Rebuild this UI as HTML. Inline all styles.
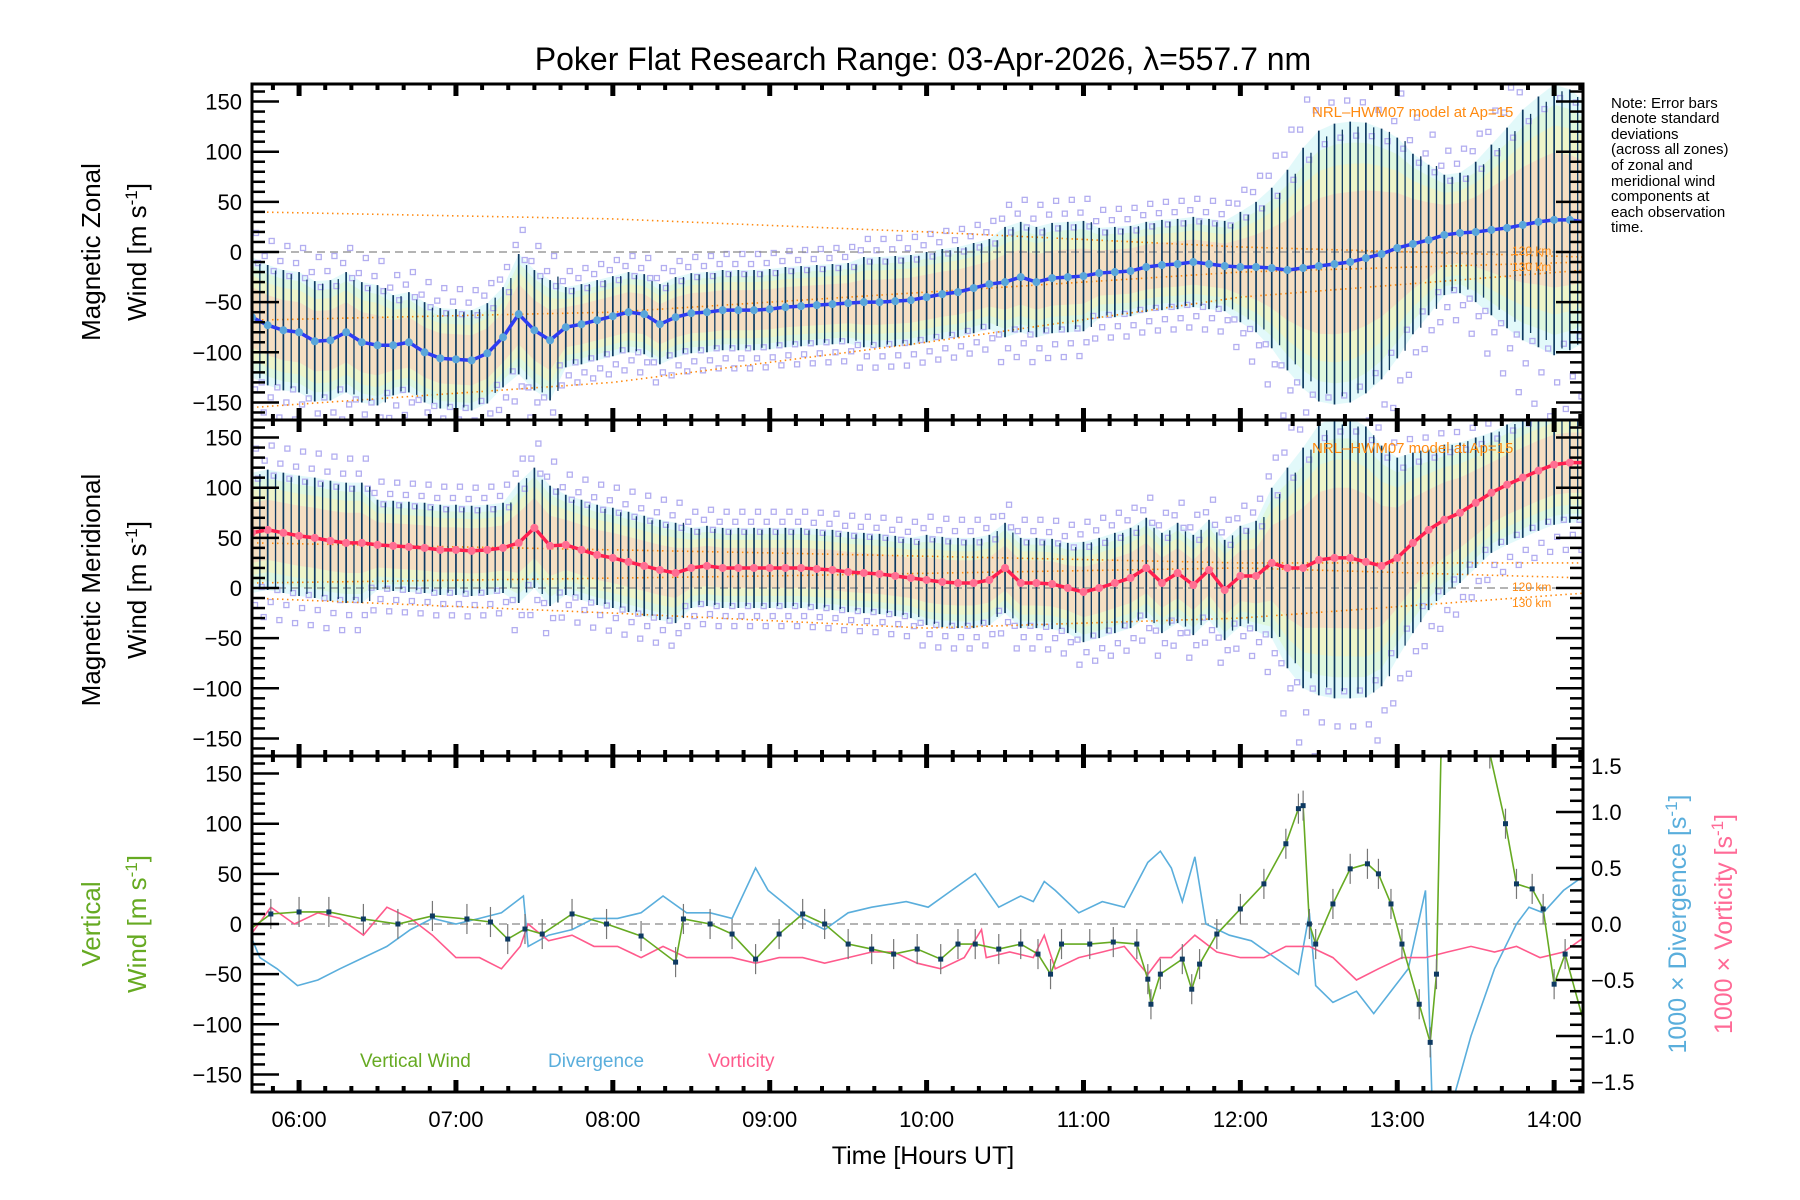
<!DOCTYPE html>
<html><head><meta charset="utf-8"><title>Poker Flat winds</title>
<style>
html,body{margin:0;padding:0;background:#fff;}
svg{display:block;font-family:"Liberation Sans",sans-serif;}
</style></head>
<body>
<svg id="chart" width="1800" height="1200" viewBox="0 0 1800 1200" xmlns="http://www.w3.org/2000/svg">
<defs>
<clipPath id="clip1"><rect x="252" y="84" width="1331" height="336"/></clipPath>
<clipPath id="clip2"><rect x="252" y="420" width="1331" height="336"/></clipPath>
<clipPath id="clip3"><rect x="252" y="756" width="1331" height="336"/></clipPath>
</defs>
<text x="923" y="70" font-size="32" text-anchor="middle">Poker Flat Research Range: 03-Apr-2026, λ=557.7 nm</text>
<g id="layer"></g>
<text x="923" y="1164" font-size="25" text-anchor="middle">Time [Hours UT]</text>
<g font-size="26" text-anchor="middle">
<text transform="translate(100,252) rotate(-90)">Magnetic  Zonal</text>
<text transform="translate(146,252) rotate(-90)">Wind  [m  s<tspan font-size="17" dy="-9">-1</tspan><tspan dy="9">]</tspan></text>
</g>
<g font-size="26" text-anchor="middle">
<text transform="translate(100,590) rotate(-90)">Magnetic  Meridional</text>
<text transform="translate(146,590) rotate(-90)">Wind  [m  s<tspan font-size="17" dy="-9">-1</tspan><tspan dy="9">]</tspan></text>
</g>
<g font-size="26" text-anchor="middle" fill="#66aa22">
<text transform="translate(100,924) rotate(-90)">Vertical</text>
<text transform="translate(146,924) rotate(-90)">Wind  [m  s<tspan font-size="17" dy="-9">-1</tspan><tspan dy="9">]</tspan></text>
</g>
<text transform="translate(1686,924) rotate(-90)" font-size="25" text-anchor="middle" fill="#5aaedc">1000 × Divergence [s<tspan font-size="17" dy="-9">-1</tspan><tspan dy="9">]</tspan></text>
<text transform="translate(1732,924) rotate(-90)" font-size="25" text-anchor="middle" fill="#ff6a96">1000 × Vorticity [s<tspan font-size="17" dy="-9">-1</tspan><tspan dy="9">]</tspan></text>
<g font-size="15" fill="#000">
<text x="1611" y="108">Note: Error bars</text>
<text x="1611" y="123">denote standard</text>
<text x="1611" y="139">deviations</text>
<text x="1611" y="154">(across all zones)</text>
<text x="1611" y="170">of zonal and</text>
<text x="1611" y="186">meridional wind</text>
<text x="1611" y="201">components at</text>
<text x="1611" y="217">each observation</text>
<text x="1611" y="232">time.</text>
</g>
<g font-size="19">
<text x="360" y="1067" fill="#66aa22">Vertical Wind</text>
<text x="548" y="1067" fill="#5aaedc">Divergence</text>
<text x="708" y="1067" fill="#ff5a8c">Vorticity</text>
</g>
</svg>
<script>
// ---- data ----
const gridStart = 5.7, gridStep = 0.1;
const zonalMean = [-65,-73,-78,-80,-89,-88,-80,-90,-93,-93,-90,-100,-106,-107,-108,-101,-85,-62,-78,-88,-75,-72,-68,-64,-60,-62,-72,-65,-61,-60,-58,-58,-58,-57,-55,-54,-53,-52,-51,-50,-50,-49,-48,-45,-42,-40,-36,-32,-30,-25,-30,-26,-25,-24,-21,-20,-19,-15,-13,-12,-10,-12,-14,-15,-15,-16,-18,-16,-14,-12,-10,-6,-2,4,8,12,17,19,20,22,24,27,30,32,32,30];
const zonalStd = [60,60,60,60,60,60,60,60,60,50,50,50,50,50,50,50,50,60,60,60,40,40,40,40,40,40,40,40,40,40,40,40,40,40,40,40,40,40,40,45,45,45,45,45,45,45,45,45,55,55,55,55,55,55,45,45,45,45,45,45,45,45,45,55,65,80,100,120,135,140,140,135,125,110,90,75,60,60,70,85,100,115,125,135,130,120];
const meridMean = [55,58,55,52,50,47,45,45,43,42,41,40,38,38,37,38,40,45,60,42,43,38,33,30,26,22,18,15,20,22,20,20,20,20,20,20,19,18,16,15,14,12,10,8,6,5,5,8,20,5,5,4,0,-4,0,5,10,20,5,15,3,18,-2,12,12,25,20,20,28,30,30,26,22,30,45,58,68,75,85,95,103,110,117,123,125,125,122];
const meridStd = [60,60,60,60,60,60,60,60,45,45,45,45,45,45,45,45,45,60,60,60,50,50,50,50,50,50,50,50,40,40,40,40,40,40,40,40,40,40,40,40,40,40,40,45,45,45,45,45,45,45,45,45,45,50,50,50,50,50,50,50,50,50,50,50,55,75,100,120,135,140,140,135,120,100,90,80,75,70,65,60,60,60,60,60,60,60];
const modelZ1 = [[5.7,40],[8,33],[10,20],[12,5],[14.2,-5]];
const modelZ2 = [[5.7,-68],[8,-60],[10,-40],[12,-20],[14.2,-10]];
const modelZ3 = [[5.7,-155],[8,-130],[10,-90],[12,-45],[14.2,-18]];
const modelM1 = [[5.7,-10],[8,-25],[10,-40],[12,-30],[14.2,-5]];
const modelM2 = [[5.7,5],[9,12],[12,20],[14.2,10]];
const modelM3 = [[5.7,45],[9,35],[12,25],[14.2,25]];
const vwTimes = [5.69,5.82,6.0,6.19,6.41,6.63,6.85,7.07,7.22,7.33,7.44,7.55,7.74,7.96,8.18,8.40,8.45,8.62,8.76,8.91,9.06,9.21,9.35,9.5,9.65,9.79,9.94,10.09,10.2,10.31,10.46,10.6,10.71,10.79,10.86,11.04,11.19,11.34,11.41,11.43,11.49,11.63,11.69,11.74,11.85,12.0,12.15,12.29,12.37,12.40,12.44,12.48,12.59,12.70,12.81,12.88,12.96,13.03,13.14,13.21,13.25,13.28,13.59,13.69,13.76,13.86,13.93,14.0,14.07,14.21];
const vwValues = [-5,10,12,12,5,0,8,5,2,-15,-5,-10,10,0,-12,-38,5,0,-10,-35,-10,10,0,-20,-25,-30,-25,-35,-20,-20,-25,-20,-30,-50,-20,-20,-18,-20,-55,-80,-50,-35,-65,-40,-10,15,40,80,115,118,0,-20,20,55,60,50,20,-20,-80,-118,-50,180,170,100,40,35,15,-60,-30,-110];
const divTimes = [5.69,5.75,5.86,5.99,6.12,6.26,6.41,6.56,6.71,6.85,7.0,7.15,7.29,7.43,7.46,7.59,7.74,7.88,8.03,8.18,8.32,8.47,8.62,8.76,8.91,8.99,9.21,9.35,9.5,9.65,9.87,10.01,10.16,10.31,10.46,10.6,10.68,10.75,10.82,10.97,11.12,11.26,11.41,11.49,11.56,11.63,11.71,11.78,11.93,12.07,12.22,12.37,12.44,12.48,12.59,12.74,12.85,12.96,13.07,13.18,13.22,13.35,13.47,13.62,13.76,13.84,13.93,14.06,14.21];
const divValues = [-0.1,-0.3,-0.4,-0.55,-0.5,-0.4,-0.3,-0.2,-0.05,0.05,0,0.05,0.1,0.25,-0.2,-0.1,-0.05,0.05,0.05,0.1,0.25,0.1,0.1,0.05,0.5,0.3,0.05,-0.05,0.1,0.15,0.2,0.15,0.3,0.45,0.15,0.25,0.2,0.38,0.3,0.1,0.2,0.15,0.55,0.65,0.5,0.2,0.6,0.0,-0.1,-0.15,-0.3,-0.45,0.1,-0.55,-0.7,-0.6,-0.8,-0.6,-0.4,0.3,-1.5,-1.6,-1.0,-0.4,0.0,0.15,0.1,0.3,0.45];
const vortTimes = [5.69,5.82,5.97,6.12,6.26,6.41,6.56,6.71,6.85,7.0,7.15,7.29,7.41,7.46,7.59,7.74,7.88,8.03,8.18,8.32,8.47,8.62,8.76,8.91,9.06,9.21,9.35,9.5,9.65,9.79,9.94,10.09,10.24,10.35,10.38,10.53,10.68,10.75,10.82,10.97,11.12,11.26,11.41,11.49,11.56,11.71,11.85,12.0,12.15,12.29,12.44,12.59,12.74,12.88,13.03,13.18,13.32,13.47,13.62,13.76,13.91,14.06,14.21];
const vortValues = [-0.1,0.15,0.0,0.1,0.05,-0.1,0.15,0.05,-0.1,-0.3,-0.3,-0.4,-0.2,0.0,-0.15,-0.1,-0.2,-0.2,-0.3,-0.2,-0.3,-0.3,-0.3,-0.35,-0.3,-0.3,-0.35,-0.3,-0.25,-0.25,-0.35,-0.4,-0.3,-0.05,-0.3,-0.25,-0.3,-0.1,-0.4,-0.3,-0.25,-0.2,-0.45,-0.3,-0.3,-0.1,-0.25,-0.3,-0.3,-0.2,-0.2,-0.3,-0.5,-0.4,-0.3,-0.3,-0.25,-0.2,-0.25,-0.2,-0.3,-0.25,-0.1];
const windTicks = [-150,-100,-50,0,50,100,150];
const windTickLabels = ["\u2212150","\u2212100","\u221250","0","50","100","150"];
const rightTicks = [-1.5,-1.0,-0.5,0.0,0.5,1.0,1.5];
const rightTickLabels = ["\u22121.5","\u22121.0","\u22120.5","0.0","0.5","1.0","1.5"];
const hourTicks = [6,7,8,9,10,11,12,13,14];
const hourTickLabels = ["06:00","07:00","08:00","09:00","10:00","11:00","12:00","13:00","14:00"];

// ---- layout ----
const NS = "http://www.w3.org/2000/svg";
const L = 252, R = 1583, H = 336;
const tops = [84, 420, 756];
const T0 = 5.70, T1 = 14.184;
const YMIN = -167.5, YMAX = 167.5;
function xs(t){ return L + (t - T0) / (T1 - T0) * (R - L); }
function ys(p, v){ return tops[p] + (YMAX - v) / (YMAX - YMIN) * H; }
function yr(v){ return tops[2] + (1.5 - v) / 3.0 * H; }
const layer = document.getElementById("layer");
function mk(tag, attrs, parent){
  const e = document.createElementNS(NS, tag);
  for (const k in attrs) e.setAttribute(k, attrs[k]);
  (parent || layer).appendChild(e);
  return e;
}
const gridT = zonalMean.map((_, i) => gridStart + i * gridStep);

function drawWindPanel(p, mean, std, models, lineColor, dotColor, name){
  const g = mk("g", {"clip-path": "url(#clip" + (p + 1) + ")"});
  
  
  const bands = [[1.0, "#c6f3f5"], [0.85, "#dcf7c4"], [0.7, "#fdf1b6"], [0.5, "#fcc9bb"]];
  bands.forEach(([k, col]) => {
    let up = gridT.map((t, i) => xs(t) + "," + ys(p, mean[i] + k * std[i]));
    let dn = gridT.map((t, i) => xs(t) + "," + ys(p, mean[i] - k * std[i])).reverse();
    const b = mk("polygon", {points: up.concat(dn).join(" "), fill: col, opacity: "0.5"}, g);
    
    
  });
  gridT.forEach((t, i) => {
    [[1.15, -3], [-1.2, 3], [1.4, 4], [-1.45, -4], [0.9, 6], [-0.95, -6]].forEach(([k, dx]) => {
      const s = mk("rect", {x: xs(t) + dx - 2.5, y: ys(p, mean[i] + k * std[i]) - 2.5, width: 5, height: 5, fill: "none", stroke: "#b3aef0", "stroke-width": 1.3}, g);
      
      
    });
  });
  const z = mk("line", {x1: L, x2: R, y1: ys(p, 0), y2: ys(p, 0), stroke: "#888", "stroke-width": 1.3, "stroke-dasharray": "8 5"}, g);
  
  
  models.forEach(m => {
    const ml = mk("polyline", {points: m.map(d => xs(d[0]) + "," + ys(p, d[1])).join(" "), fill: "none", stroke: "#ff8a10", "stroke-width": 1.6, "stroke-dasharray": "1.5 3.5"}, g);
    
    
  });
  gridT.forEach((t, i) => {
    const eb = mk("line", {x1: xs(t), x2: xs(t), y1: ys(p, mean[i] + std[i]), y2: ys(p, mean[i] - std[i]), stroke: "#0e3a62", "stroke-width": 1.7}, g);
    
    
    const j = Math.min(i + 1, mean.length - 1);
    const eb2 = mk("line", {x1: xs(t + 0.05), x2: xs(t + 0.05), y1: ys(p, (mean[i] + mean[j]) / 2 + std[i] * 0.95), y2: ys(p, (mean[i] + mean[j]) / 2 - std[i] * 0.95), stroke: "#0e3a62", "stroke-width": 1.3}, g);
    
    
  });
  const ln = mk("polyline", {points: gridT.map((t, i) => xs(t) + "," + ys(p, mean[i])).join(" "), fill: "none", stroke: lineColor, "stroke-width": 3.5}, g);
  
  
  gridT.forEach((t, i) => {
    const d = mk("circle", {cx: xs(t), cy: ys(p, mean[i]), r: 4, fill: dotColor}, g);
    
    
  });
  const lab = mk("text", {x: 1312, y: tops[p] + 33, "font-size": 15, fill: "#ff8a10"}, g);
  
  
  lab.textContent = "NRL\u2013HWM07 model at Ap=15";
  const last = models[0][models[0].length-1][1];
  const k1 = mk("text", {x: 1512, y: ys(p, last) - 2, "font-size": 12, fill: "#ff8a10"}, g);
  
  
  k1.textContent = "120 km";
  const k2 = mk("text", {x: 1512, y: ys(p, last) + 14, "font-size": 12, fill: "#ff8a10"}, g);
  
  
  k2.textContent = "130 km";
}
drawWindPanel(0, zonalMean, zonalStd, [modelZ1, modelZ2, modelZ3], "#2d3cf2", "#5aa6da", "zonal");
drawWindPanel(1, meridMean, meridStd, [modelM1, modelM2, modelM3], "#ff2050", "#ff6f92", "meridional");

const g3 = mk("g", {"clip-path": "url(#clip3)"});


const z3 = mk("line", {x1: L, x2: R, y1: ys(2, 0), y2: ys(2, 0), stroke: "#888", "stroke-width": 1.3, "stroke-dasharray": "8 5"}, g3);


const divLine = mk("polyline", {points: divTimes.map((t, i) => xs(t) + "," + yr(divValues[i])).join(" "), fill: "none", stroke: "#5aaedc", "stroke-width": 1.6}, g3);


const vortLine = mk("polyline", {points: vortTimes.map((t, i) => xs(t) + "," + yr(vortValues[i])).join(" "), fill: "none", stroke: "#ff5a8c", "stroke-width": 1.6}, g3);


const vwLine = mk("polyline", {points: vwTimes.map((t, i) => xs(t) + "," + ys(2, vwValues[i])).join(" "), fill: "none", stroke: "#66aa22", "stroke-width": 1.6}, g3);


vwTimes.forEach((t, i) => {
  const e = mk("line", {x1: xs(t), x2: xs(t), y1: ys(2, vwValues[i] + 15), y2: ys(2, vwValues[i] - 15), stroke: "#777", "stroke-width": 1.2}, g3);
  
  
  const d = mk("rect", {x: xs(t) - 2.5, y: ys(2, vwValues[i]) - 2.5, width: 5, height: 5, fill: "#0e3a62"}, g3);
  
  
});

const ax = mk("g", {});


for (let p = 0; p < 3; p++){
  const top = tops[p], bot = tops[p] + H;
  const fr = mk("rect", {x: L, y: top, width: R - L, height: H, fill: "none", stroke: "#000", "stroke-width": 3}, ax);
  
  
  for (let m = Math.ceil(T0 * 6); m <= T1 * 6; m++){
    const t = m / 6, major = (m % 6 === 0);
    const len = major ? 12 : 6, w = major ? 5 : 4;
    mk("line", {x1: xs(t), x2: xs(t), y1: top, y2: top + len, stroke: "#000", "stroke-width": w}, ax);
    mk("line", {x1: xs(t), x2: xs(t), y1: bot, y2: bot - len, stroke: "#000", "stroke-width": w}, ax);
  }
  for (let v = -160; v <= 160; v += 10){
    const major = (v % 50 === 0), len = major ? 27 : 13;
    mk("line", {x1: L, x2: L + len, y1: ys(p, v), y2: ys(p, v), stroke: "#000", "stroke-width": 2.5}, ax);
    if (p < 2) mk("line", {x1: R, x2: R - len, y1: ys(p, v), y2: ys(p, v), stroke: "#000", "stroke-width": 2.5}, ax);
  }
  windTicks.forEach((v, i) => {
    const tl = mk("text", {x: L - 10, y: ys(p, v) + 8, "font-size": 22, "text-anchor": "end"}, ax);
    
    
    tl.textContent = windTickLabels[i];
  });
}
for (let k = -15; k <= 15; k++){
  const v = k / 10, major = (k % 5 === 0), len = major ? 27 : 13;
  mk("line", {x1: R, x2: R - len, y1: yr(v), y2: yr(v), stroke: "#000", "stroke-width": 2.5}, ax);
}
rightTicks.forEach((v, i) => {
  const yy = Math.min(Math.max(yr(v) + 8, 774), 1090);
  const tl = mk("text", {x: 1591, y: yy, "font-size": 22}, ax);
  
  
  tl.textContent = rightTickLabels[i];
});
hourTicks.forEach((h, i) => {
  const tl = mk("text", {x: xs(h), y: 1127, "font-size": 22, "text-anchor": "middle"}, ax);
  
  
  tl.textContent = hourTickLabels[i];
});
</script>
</body></html>
